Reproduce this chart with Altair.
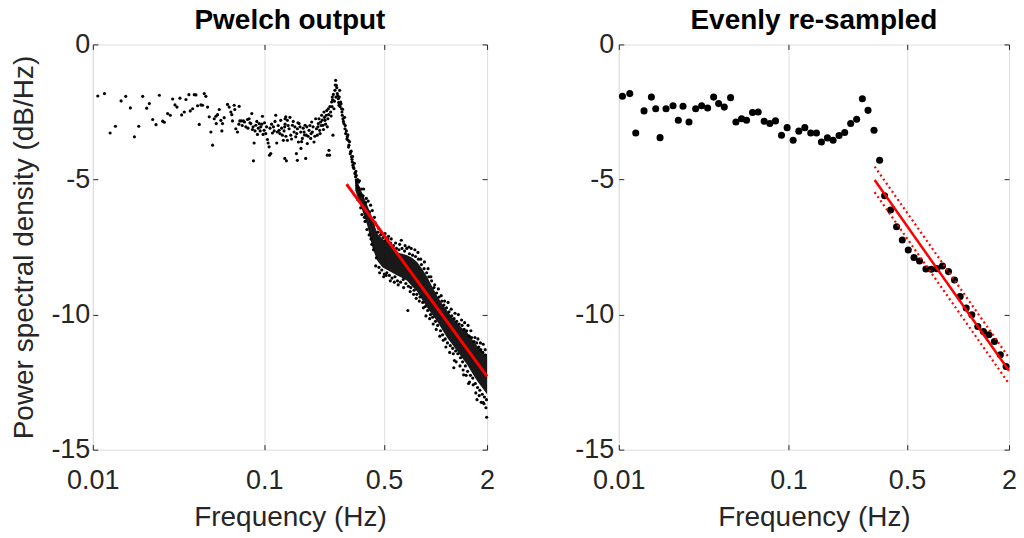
import altair as alt
import pandas as pd

FONT = "Liberation Sans"
INK = "#262626"

# ---------------- left panel: Pwelch output ----------------
# individually readable points (low-frequency part and the peak)
pw_f = [0.01069, 0.01169, 0.01262, 0.01355, 0.01462, 0.01556, 0.01656, 0.01749, 0.01854, 0.01955,
        0.02063, 0.02138, 0.02236, 0.02338, 0.02445, 0.02557, 0.02615, 0.02734, 0.02834, 0.02924,
        0.03017, 0.03099, 0.03226, 0.03299, 0.03419, 0.03496, 0.03639, 0.03705, 0.03823, 0.03909,
        0.03997, 0.04087, 0.04180, 0.04275,
        0.04371, 0.04470, 0.04571, 0.04675, 0.04781, 0.04889, 0.05000, 0.05113, 0.05229, 0.05252,
        0.05346, 0.05467, 0.05590, 0.05665, 0.05716, 0.05845, 0.06112, 0.06250, 0.06391, 0.06477,
        0.06535, 0.06683, 0.06743, 0.06835, 0.06989, 0.07147, 0.07211, 0.07374, 0.07574, 0.07816,
        0.07992, 0.08173, 0.08357, 0.08471, 0.08547, 0.08661, 0.08740, 0.08937, 0.09139, 0.09346,
        0.09557, 0.09772, 0.09860, 0.09993, 0.1022, 0.1045, 0.1055, 0.1069, 0.1093, 0.1118,
        0.1133, 0.1169, 0.1184, 0.1195, 0.1222, 0.1250, 0.1278, 0.1295, 0.1318, 0.1337, 0.1349,
        0.0712, 0.0745, 0.0768, 0.0805, 0.0826, 0.0862, 0.0885, 0.0906, 0.0925, 0.0948,
        0.0968, 0.1005, 0.1033, 0.1082, 0.1105, 0.1145, 0.1157, 0.1208, 0.1236, 0.1264,
        0.1307, 0.1325, 0.1075,
        0.1325, 0.1367, 0.1367, 0.1398, 0.1430, 0.1462, 0.1495, 0.1529, 0.1542, 0.1563,
        0.1585, 0.1599, 0.1635, 0.1640, 0.1672, 0.1710, 0.1733, 0.1748, 0.1764, 0.1787,
        0.1828, 0.1869, 0.1894, 0.1911, 0.1954, 0.1998, 0.2020, 0.2044, 0.2072, 0.2109,
        0.2137, 0.2166, 0.2205, 0.2235, 0.2265, 0.2306, 0.2337, 0.2369, 0.2390, 0.2410,
        0.2444, 0.2477, 0.2499, 0.2522, 0.2556, 0.2590, 0.2614, 0.2637, 0.2673, 0.2709,
        0.2733, 0.2758, 0.2795, 0.2833, 0.2858, 0.2884, 0.2923, 0.2963, 0.2989, 0.3057,
        0.3097, 0.3125, 0.3196, 0.3239, 0.3268, 0.3297, 0.3342, 0.3387, 0.3417, 0.3448,
        0.3494, 0.3541, 0.1320, 0.1563, 0.2338,
        0.1340, 0.1380, 0.1415, 0.1445, 0.1478, 0.1512, 0.1550, 0.1575, 0.1620, 0.1655,
        0.1690, 0.1720, 0.1775, 0.1805, 0.1850, 0.1880, 0.1930, 0.1976, 0.2060, 0.2090,
        0.2120, 0.2150, 0.2185, 0.2220, 0.2250, 0.2285, 0.2320, 0.2355, 0.2380, 0.2420,
        0.2460, 0.2490, 0.2510, 0.2535, 0.2570, 0.2600, 0.2625, 0.2655, 0.2690, 0.2720,
        0.2745, 0.2775, 0.2810, 0.2845, 0.2870, 0.2900, 0.2945, 0.2975, 0.3020, 0.3040,
        0.3080, 0.3110, 0.3150, 0.3180, 0.3220, 0.3255, 0.3285, 0.3320, 0.3360, 0.3400,
        0.3430, 0.3470, 0.3510, 0.3560]
pw_db = [-1.91, -1.82, -3.28, -3.03, -2.09, -1.92, -2.35, -3.42, -3.03, -1.92,
         -2.36, -2.19, -2.78, -2.97, -1.88, -2.84, -2.88, -2.56, -2.62, -2.02,
         -2.24, -2.32, -1.99, -2.61, -2.50, -2.04, -1.86, -2.46, -2.38, -1.86,
         -1.87, -2.27, -2.96, -2.24,
         -2.25, -1.82, -1.92, -2.32, -2.68, -3.24, -3.73, -2.75, -2.66, -2.93,
         -2.60, -2.41, -2.81, -3.20, -2.93, -2.71, -2.22, -2.32, -2.50, -2.60,
         -2.83, -2.25, -2.41, -3.12, -3.24, -2.29, -2.83, -2.83, -2.83, -3.05,
         -2.78, -2.75, -2.93, -2.56, -3.15, -4.31, -3.65, -2.99, -3.33, -2.93,
         -3.05, -2.66, -3.33, -3.18, -3.30, -3.52, -3.65, -3.79, -4.04, -3.28,
         -3.05, -2.62, -3.65, -3.24, -3.18, -2.81, -3.36, -3.55, -3.05, -2.68, -4.31,
         -2.95, -3.00, -2.87, -3.10, -2.90, -3.05, -3.20, -2.85, -3.10, -3.20,
         -2.95, -2.90, -3.05, -3.10, -2.95, -3.20, -2.85, -3.00, -3.30, -3.10,
         -3.20, -2.95, -4.10,
         -2.75, -2.81, -3.55, -3.12, -3.36, -2.99, -3.24, -3.42, -4.04, -3.12,
         -3.61, -2.93, -3.24, -3.85, -3.48, -3.24, -2.99, -4.22, -3.36, -3.67,
         -3.18, -3.48, -2.87, -3.24, -3.61, -2.75, -3.12, -3.36, -2.93, -3.18,
         -2.87, -2.62, -2.99, -2.50, -2.81, -2.62, -3.05, -2.38, -3.92, -4.10,
         -2.50, -2.13, -1.95, -3.36, -2.38, -1.70, -1.33, -1.51, -1.82, -2.01,
         -2.25, -1.70, -2.13, -2.38, -2.62, -2.75, -2.93, -3.12, -3.30, -3.42,
         -3.55, -3.73, -3.98, -4.16, -4.35, -4.47, -4.59, -4.78, -4.90, -5.02,
         -5.21, -5.39, -4.22, -4.29, -4.10,
         -3.40, -3.00, -2.70, -3.50, -2.85, -3.05, -3.30, -2.90, -3.05, -3.60,
         -3.10, -3.35, -3.05, -3.40, -3.00, -3.30, -3.05, -3.40, -3.05, -2.75,
         -3.30, -3.00, -2.80, -3.15, -2.70, -2.95, -2.45, -2.75, -2.60, -2.30,
         -2.65, -2.30, -2.05, -1.85, -2.10, -1.50, -1.95, -1.60, -1.90, -2.15,
         -1.95, -2.30, -2.20, -2.50, -2.40, -2.85, -2.70, -3.00, -3.20, -3.50,
         -3.35, -3.80, -3.60, -4.05, -3.95, -4.25, -4.15, -4.55, -4.40, -4.75,
         -4.70, -5.10, -5.00, -5.30]

# dense high-frequency cloud: solid core envelope
band_f = [0.340, 0.374, 0.400, 0.430, 0.457, 0.490, 0.523, 0.560, 0.598, 0.640,
          0.683, 0.730, 0.781, 0.835, 0.894, 0.955, 1.022, 1.093, 1.168, 1.250,
          1.336, 1.428, 1.528, 1.634, 1.747, 1.870, 2.000]
band_hi = [-5.00, -5.50, -5.95, -6.45, -7.00, -7.20, -7.30, -7.50, -7.70, -7.75,
           -7.80, -7.90, -8.05, -8.30, -8.60, -8.95, -9.30, -9.60, -9.85, -10.10,
           -10.30, -10.50, -10.65, -10.90, -11.15, -11.35, -11.55]
band_lo = [-5.40, -6.15, -6.70, -7.55, -8.00, -8.25, -8.35, -8.45, -8.55, -8.65,
           -8.75, -8.95, -9.15, -9.45, -9.75, -10.00, -10.25, -10.55, -10.85, -11.10,
           -11.35, -11.60, -11.85, -12.15, -12.45, -12.70, -12.95]
# loose points around the edges of the dense cloud
edge_f = [0.345, 0.352, 0.360, 0.366, 0.381, 0.388, 0.395, 0.410, 0.418, 0.425,
          0.440, 0.448, 0.465, 0.472, 0.482, 0.498, 0.508, 0.515, 0.532, 0.545,
          0.552, 0.575, 0.585, 0.606, 0.618, 0.632, 0.652, 0.665, 0.690, 0.700,
          0.712, 0.722, 0.745, 0.758, 0.772, 0.790, 0.805, 0.820, 0.850, 0.862,
          0.880, 0.905, 0.925, 0.940, 0.970, 0.990, 1.010, 1.040, 1.060, 1.080,
          1.110, 1.130, 1.150, 1.185, 1.210, 1.235, 1.270, 1.300, 1.320, 1.360,
          1.390, 1.420, 1.450, 1.480, 1.510, 1.550, 1.580, 1.610, 1.660, 1.700,
          1.720, 1.770, 1.800, 1.830, 1.850, 1.900, 1.920, 1.950, 1.970, 1.990,
          1.560, 1.290, 1.280, 1.460, 1.747, 1.900,
          0.350, 0.355, 0.362, 0.370, 0.372, 0.378, 0.385, 0.392, 0.398, 0.405,
          0.412, 0.420, 0.428, 0.435, 0.445, 0.452, 0.460, 0.468, 0.478, 0.486,
          0.495, 0.503, 0.512, 0.520, 0.528, 0.538, 0.548, 0.558, 0.568, 0.580,
          0.592, 0.600, 0.612, 0.625, 0.638, 0.648, 0.660, 0.672, 0.680, 0.695,
          0.705, 0.718, 0.735, 0.750, 0.765, 0.778, 0.795, 0.812, 0.828, 0.842,
          0.858, 0.872, 0.888, 0.900, 0.915, 0.935, 0.950, 0.962, 0.980, 1.000,
          1.015, 1.030, 1.050, 1.070, 1.090, 1.100, 1.120, 1.140, 1.160, 1.175,
          1.200, 1.220, 1.245, 1.260, 1.285, 1.310, 1.330, 1.350, 1.375, 1.400,
          1.430, 1.440, 1.470, 1.495, 1.520, 1.540, 1.575, 1.600, 1.625, 1.650,
          1.680, 1.710, 1.740, 1.760, 1.790, 1.815, 1.840, 1.875, 1.890, 1.930,
          1.960, 1.985]
edge_db = [-4.85, -5.75, -5.05, -6.05, -5.35, -6.55, -5.70, -7.05, -5.95, -7.40,
           -6.40, -8.20, -6.80, -8.45, -6.95, -8.60, -7.00, -8.55, -7.10, -8.75,
           -7.20, -8.80, -7.35, -8.90, -7.40, -7.25, -9.00, -7.45, -9.85, -7.50,
           -9.15, -7.55, -9.25, -7.60, -9.40, -7.70, -9.50, -7.95, -9.75, -8.05,
           -10.05, -8.30, -10.15, -8.60, -10.35, -8.90, -10.55, -9.05, -10.80, -9.30,
           -10.95, -9.50, -11.20, -9.55, -11.40, -9.80, -11.45, -9.95, -11.75, -10.00,
           -11.90, -10.20, -12.05, -10.30, -12.25, -10.40, -12.50, -10.60, -12.60, -10.85,
           -12.90, -10.90, -13.00, -11.05, -13.25, -11.10, -13.30, -11.30, -13.45, -13.80,
           -12.55, -11.70, -11.97, -12.23, -13.15, -13.26,
           -5.30, -5.10, -5.55, -5.35, -6.30, -5.60, -6.40, -5.85, -6.85, -5.80,
           -6.20, -7.20, -6.15, -7.60, -6.60, -7.90, -6.95, -8.25, -7.05, -8.35,
           -7.15, -8.50, -7.25, -8.45, -7.20, -8.55, -7.35, -8.65, -7.45, -8.60,
           -7.55, -8.75, -7.60, -8.80, -7.55, -8.70, -7.65, -8.85, -7.55, -8.95,
           -7.75, -9.00, -7.80, -9.10, -7.85, -9.25, -7.95, -9.35, -8.15, -9.55,
           -8.30, -9.70, -8.45, -9.85, -8.60, -10.00, -8.75, -10.10, -9.00, -10.25,
           -9.20, -10.40, -9.35, -10.60, -9.50, -10.75, -9.65, -10.90, -9.75, -11.05,
           -9.90, -11.15, -10.05, -11.25, -10.15, -11.35, -10.25, -11.45, -10.35, -11.60,
           -10.40, -11.75, -10.55, -11.90, -10.60, -12.10, -10.80, -12.25, -10.85, -12.35,
           -11.00, -12.55, -11.05, -12.70, -11.20, -12.80, -11.30, -12.95, -11.40, -13.05,
           -11.50, -13.15]
fitL_f = [0.3027, 2.0]
fitL_db = [-5.17, -12.29]

# ---------------- right panel: evenly re-sampled ----------------
rs_f = [0.01051, 0.01161, 0.01259, 0.01409, 0.01557, 0.01651, 0.01751, 0.01899, 0.02088, 0.02244,
        0.02391, 0.02594, 0.02840, 0.03080, 0.03341, 0.03624, 0.03879, 0.04188, 0.04562, 0.04904,
        0.05297, 0.05668, 0.06147, 0.06637, 0.0720, 0.07775, 0.08395, 0.0911, 0.0983, 0.1067,
        0.1152, 0.1250, 0.1355, 0.1464, 0.1566, 0.1699, 0.1835, 0.1991, 0.2148, 0.2330,
        0.2527, 0.2730, 0.2949, 0.3199, 0.3451, 0.3693, 0.4006, 0.4345, 0.4694, 0.5092,
        0.5502, 0.5934, 0.6471, 0.6956, 0.7511, 0.8102, 0.8792, 0.9537, 1.030, 1.118,
        1.207, 1.309, 1.413, 1.520, 1.640, 1.778, 1.922]
rs_db = [-1.92, -1.82, -3.28, -2.46, -1.95, -2.38, -3.45, -2.38, -2.27, -2.81,
         -2.29, -2.87, -2.38, -2.27, -2.35, -1.95, -2.19, -2.32, -1.97, -2.87,
         -2.75, -2.81, -2.52, -2.50, -2.84, -2.93, -2.83, -3.36, -3.08, -3.55,
         -3.21, -3.08, -3.28, -3.28, -3.61, -3.46, -3.55, -3.37, -3.26, -2.93,
         -2.77, -2.01, -2.44, -3.18, -4.29, -5.60, -6.13, -6.75, -7.24, -7.61,
         -7.89, -8.02, -8.31, -8.32, -8.30, -8.20, -8.41, -8.72, -9.33, -9.76,
         -10.01, -10.44, -10.63, -10.75, -11.00, -11.49, -11.92]
fitR_f = [0.3226, 2.0]
fitR_db = [-5.02, -12.08]
fitR_hi = [-4.52, -11.60]
fitR_lo = [-5.47, -12.56]

x_ticks = [0.01, 0.1, 0.5, 2]
y_ticks = [0, -5, -10, -15]
x_dom = [0.01, 2]
y_dom = [-15, 0]

W_L, W_R, H = 395, 391, 406

xs = alt.Scale(type="log", domain=x_dom, nice=False)
ys = alt.Scale(domain=y_dom, nice=False)

lab = dict(labelFont=FONT, labelFontSize=27, labelColor=INK, labelFlush=False, titleFont=FONT,
           titleFontSize=28, titleColor=INK, titleFontWeight="normal", titleLimit=1000)


def x_main():
    return alt.Axis(values=x_ticks, labelExpr="'' + datum.value", grid=True, gridColor="#dedede",
                    gridWidth=1, domain=False, ticks=True, tickSize=5, tickColor=INK, tickWidth=1,
                    offset=-5, labelPadding=18, title="Frequency (Hz)", titlePadding=10, **lab)


def y_main(title, pad):
    kw = dict(values=y_ticks, labelExpr="'' + datum.value", grid=False, domain=False, ticks=True,
              tickSize=5, tickColor=INK, tickWidth=1, offset=-5, labelPadding=pad, **lab)
    if title:
        return alt.Axis(title=title, titlePadding=12, **kw)
    return alt.Axis(title=None, **kw)


def x_top():
    return alt.Axis(orient="top", values=x_ticks, labels=False, grid=False, domain=False, tickSize=5,
                    tickColor=INK, tickWidth=1, offset=-5, title=None)


def y_right():
    return alt.Axis(orient="right", values=y_ticks, labels=False, grid=False, domain=False, tickSize=5,
                    tickColor=INK, tickWidth=1, offset=-5, title=None)


def ticks_layer(df):
    return alt.Chart(df).mark_point(opacity=0).encode(
        x=alt.X("f:Q", scale=xs, axis=x_top()),
        y=alt.Y("db:Q", scale=ys, axis=y_right()),
    )


def title(t):
    return alt.TitleParams(t, font=FONT, fontSize=28, fontWeight="bold", color="black", offset=-5)


# left panel
df_pw = pd.DataFrame({"f": pw_f, "db": pw_db})
df_edge = pd.DataFrame({"f": edge_f, "db": edge_db})
df_band = pd.DataFrame({"f": band_f, "hi": band_hi, "lo": band_lo})
df_fitL = pd.DataFrame({"f": fitL_f, "db": fitL_db})

left_pts = alt.Chart(df_pw).mark_circle(size=10, color="black", opacity=1).encode(
    x=alt.X("f:Q", scale=xs, axis=x_main()),
    y=alt.Y("db:Q", scale=ys, axis=y_main("Power spectral density (dB/Hz)", 3)),
)
left_band = alt.Chart(df_band).mark_area(color="black", opacity=0.9).encode(
    x=alt.X("f:Q", scale=xs, axis=None),
    y=alt.Y("hi:Q", scale=ys, axis=None),
    y2="lo:Q",
)
left_edge = alt.Chart(df_edge).mark_circle(size=10, color="black", opacity=1).encode(
    x=alt.X("f:Q", scale=xs, axis=None),
    y=alt.Y("db:Q", scale=ys, axis=None),
)
left_fit = alt.Chart(df_fitL).mark_line(color="#ff0000", strokeWidth=3).encode(
    x=alt.X("f:Q", scale=xs, axis=None),
    y=alt.Y("db:Q", scale=ys, axis=None),
)
left = alt.layer(left_pts, left_band, left_edge, left_fit, ticks_layer(df_pw)).resolve_axis(
    x="independent", y="independent").properties(width=W_L, height=H, title=title("Pwelch output"))

# right panel
df_rs = pd.DataFrame({"f": rs_f, "db": rs_db})
df_fitR = pd.DataFrame({"f": fitR_f, "db": fitR_db, "hi": fitR_hi, "lo": fitR_lo})

right_pts = alt.Chart(df_rs).mark_circle(size=50, color="black", opacity=1).encode(
    x=alt.X("f:Q", scale=xs, axis=x_main()),
    y=alt.Y("db:Q", scale=ys, axis=y_main(None, 5)),
)
right_fit = alt.Chart(df_fitR).mark_line(color="#ff0000", strokeWidth=2.5).encode(
    x=alt.X("f:Q", scale=xs, axis=None),
    y=alt.Y("db:Q", scale=ys, axis=None),
)
right_hi = alt.Chart(df_fitR).mark_line(color="#ff0000", strokeWidth=2.2, strokeDash=[2, 3]).encode(
    x=alt.X("f:Q", scale=xs, axis=None),
    y=alt.Y("hi:Q", scale=ys, axis=None),
)
right_lo = alt.Chart(df_fitR).mark_line(color="#ff0000", strokeWidth=2.2, strokeDash=[2, 3]).encode(
    x=alt.X("f:Q", scale=xs, axis=None),
    y=alt.Y("lo:Q", scale=ys, axis=None),
)
right = alt.layer(right_pts, right_fit, right_hi, right_lo, ticks_layer(df_rs)).resolve_axis(
    x="independent", y="independent").properties(width=W_R, height=H, title=title("Evenly re-sampled"))

chart = alt.hconcat(left, right, spacing=132, bounds="flush").properties(
    padding={"left": 10, "top": 6, "right": 6, "bottom": 2}
).configure_view(stroke=INK, strokeWidth=1.3).configure(background="white")

chart.save("out.html", embed_options={"renderer": "svg", "actions": False})
